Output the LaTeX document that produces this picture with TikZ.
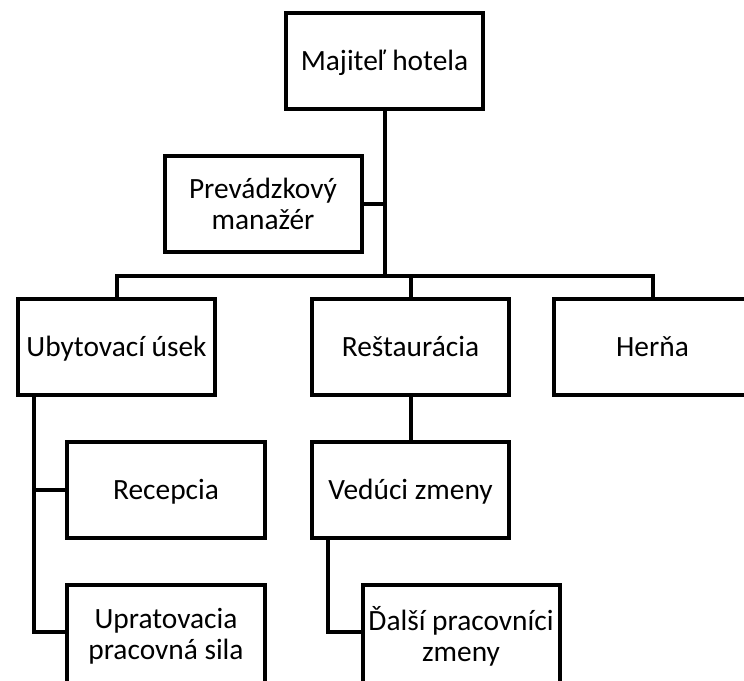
\documentclass[tikz,border=0pt]{standalone}
\usepackage{fontspec}
\setmainfont{Carlito}
\begin{document}
\begin{tikzpicture}[x=1bp,y=-1bp,
  box/.style={draw=black,line width=4bp,minimum width=197bp,minimum height=96bp,
    inner sep=0pt,align=center,font=\fontsize{29.5}{31}\selectfont},
  onebox/.style={box,text height=25bp,text depth=6bp},
  lowbox/.style={box,minimum height=102bp},
  conn/.style={draw=black,line width=4bp}]
\useasboundingbox (0,0) rectangle (744,681);
\clip (0,0) rectangle (744,681);
\node[onebox] (maj) at (384.5,61) {Majiteľ hotela};
\node[box] (prev) at (263,204) {Prevádzkový\\manažér};
\node[onebox] (ubyt) at (116.5,346.5) {Ubytovací úsek};
\node[onebox] (rest) at (410.5,346.5) {Reštaurácia};
\node[onebox] (herna) at (652.5,346.5) {Herňa};
\node[onebox] (rec) at (166,490) {Recepcia};
\node[onebox] (ved) at (410.5,490) {Vedúci zmeny};
\node[lowbox] (upr) at (166,636) {Upratovacia\\pracovná sila};
\node[lowbox] (dal) at (461,636) {Ďalší pracovníci\\zmeny};
\coordinate (bary) at (0,276);
\draw[conn] (maj.south) -- (maj.south |- bary);
\draw[conn] (prev.east) -- (prev.east -| maj.south);
\draw[conn] (ubyt.north) -- (ubyt.north |- bary) -- (herna.north |- bary) -- (herna.north);
\draw[conn] (rest.north) -- (rest.north |- bary);
\draw[conn] (rest.south) -- (ved.north);
\draw[conn] ([xshift=18bp]ubyt.south west) |- ([yshift=4bp]upr.west);
\draw[conn] ([xshift=18bp]ubyt.south west |- rec.west) -- (rec.west);
\draw[conn] ([xshift=18bp]ved.south west) |- ([yshift=4bp]dal.west);
\end{tikzpicture}
\end{document}
